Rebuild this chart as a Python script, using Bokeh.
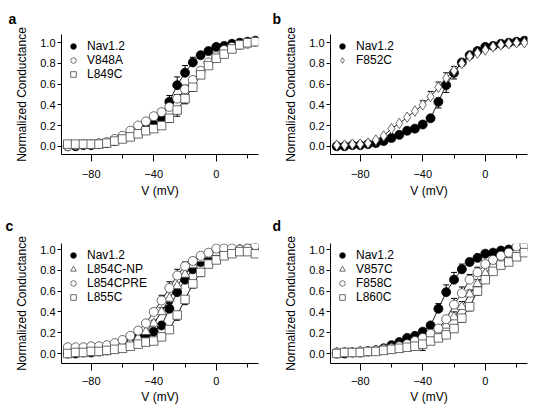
from bokeh.plotting import figure
from bokeh.layouts import gridplot
from bokeh.models import (FixedTicker, Legend, LegendItem, Whisker, TeeHead,
                          ColumnDataSource, Range1d, NumeralTickFormatter, Title)
from bokeh.embed import file_html
from bokeh.resources import INLINE

# ---------------- data ----------------
V = [-95, -90, -85, -80, -75, -70, -65, -60, -55, -50, -45, -40, -35,
     -30, -25, -20, -15, -10, -5, 0, 5, 10, 15, 20, 25]

nav12 = [0.00, 0.00, 0.01, 0.01, 0.02, 0.03, 0.05, 0.08, 0.11, 0.15, 0.17, 0.21, 0.27,
         0.43, 0.59, 0.71, 0.81, 0.88, 0.92, 0.96, 0.97, 0.99, 1.00, 1.01, 1.02]

# panel a
v848a = [0.00, 0.01, 0.02, 0.02, 0.03, 0.04, 0.07, 0.10, 0.15, 0.20, 0.24, 0.29, 0.33,
         0.38, 0.46, 0.55, 0.64, 0.73, 0.81, 0.87, 0.93, 0.96, 0.98, 0.99, 1.01]
l849c = [0.02, 0.02, 0.02, 0.02, 0.02, 0.03, 0.05, 0.07, 0.09, 0.12, 0.15, 0.17, 0.20,
         0.27, 0.35, 0.46, 0.57, 0.69, 0.78, 0.85, 0.89, 0.94, 0.98, 1.00, 1.01]
# panel b
f852c = [0.01, 0.01, 0.02, 0.02, 0.03, 0.06, 0.10, 0.17, 0.22, 0.28, 0.34, 0.40, 0.48,
         0.57, 0.66, 0.73, 0.80, 0.87, 0.90, 0.93, 0.96, 0.98, 0.99, 1.00, 1.00]
# panel c
l854c_np = [0.02, 0.02, 0.02, 0.02, 0.03, 0.04, 0.06, 0.08, 0.11, 0.15, 0.21, 0.29, 0.40,
            0.53, 0.65, 0.76, 0.85, 0.91, 0.95, 0.97, 0.98, 0.99, 1.00, 1.00, 1.00]
l854cpre = [0.06, 0.06, 0.06, 0.07, 0.07, 0.08, 0.10, 0.13, 0.17, 0.22, 0.29, 0.40, 0.51,
            0.63, 0.75, 0.84, 0.89, 0.94, 0.97, 1.01, 1.01, 1.01, 1.00, 1.01, 1.04]
l855c = [0.00, 0.01, 0.01, 0.02, 0.02, 0.03, 0.04, 0.05, 0.07, 0.09, 0.11, 0.12, 0.16,
         0.23, 0.37, 0.52, 0.67, 0.78, 0.86, 0.90, 0.94, 0.96, 0.98, 0.98, 0.96]
# panel d
v857c = [0.01, 0.01, 0.01, 0.02, 0.02, 0.03, 0.04, 0.05, 0.06, 0.08, 0.10, 0.12, 0.16,
         0.21, 0.27, 0.35, 0.45, 0.57, 0.67, 0.77, 0.85, 0.91, 0.95, 0.99, 1.02]
f858c = [0.01, 0.01, 0.01, 0.02, 0.02, 0.03, 0.04, 0.05, 0.07, 0.09, 0.12, 0.15, 0.19,
         0.24, 0.33, 0.47, 0.58, 0.71, 0.78, 0.86, 0.90, 0.94, 0.97, 1.03, 1.04]
l860c = [0.00, 0.01, 0.01, 0.01, 0.02, 0.02, 0.03, 0.04, 0.05, 0.06, 0.07, 0.09, 0.12,
         0.15, 0.18, 0.24, 0.34, 0.45, 0.60, 0.71, 0.79, 0.85, 0.88, 0.93, 0.97]

# signed error bars (positive = drawn upward, negative = downward), 0 = none
Z = [0.0] * 11
err_nav_a = Z + [0.02, 0.03, 0.06, 0.08, 0.07, 0.05, 0.03, 0.02, 0.0, 0.0, 0.0, 0.0, 0.0, 0.0]
err_v848a = Z + [0.0, 0.03, 0.03, 0.04, 0.04, 0.03, 0.02, 0.0, 0.0, 0.0, 0.0, 0.0, 0.0, 0.0]
err_l849c = Z + [0.0, 0.0, -0.04, -0.06, -0.05, -0.04, -0.03, 0.0, 0.0, 0.0, 0.0, 0.0, 0.0, 0.0]
err_nav_b = Z + [0.0, 0.0, -0.06, -0.07, -0.06, 0.0, 0.0, 0.0, 0.0, 0.0, 0.0, 0.0, 0.0, 0.0]
err_f852c = Z + [0.04, 0.05, 0.05, 0.05, 0.04, 0.03, 0.03, 0.0, 0.0, 0.0, 0.0, 0.0, 0.0, 0.0]
err_nav_c = Z + [0.0, 0.0, 0.06, 0.07, 0.06, 0.05, 0.03, 0.0, 0.0, 0.0, 0.0, 0.0, 0.0, 0.0]
err_l854c_np = Z + [0.03, 0.04, -0.05, -0.05, -0.04, 0.0, 0.0, 0.0, 0.0, 0.0, 0.0, 0.0, 0.0, 0.0]
err_l854cpre = Z + [0.03, 0.05, 0.06, 0.06, 0.04, 0.03, 0.0, 0.0, 0.0, 0.0, 0.0, 0.0, 0.0, 0.0]
err_l855c = Z + [0.0, 0.0, 0.0, -0.05, -0.05, -0.04, -0.04, 0.0, 0.0, 0.0, 0.0, 0.0, 0.0, 0.0]
err_nav_d = Z + [0.0, 0.0, 0.05, 0.07, 0.07, 0.05, 0.03, 0.0, 0.0, 0.0, 0.0, 0.0, 0.0, 0.0]
err_v857c = Z + [0.0, 0.0, 0.0, 0.05, 0.05, 0.05, 0.04, 0.04, 0.0, 0.0, 0.0, 0.0, 0.0, 0.0]
err_f858c = Z + [0.0, 0.0, 0.0, 0.0, 0.06, 0.06, 0.05, 0.05, 0.0, 0.0, 0.0, 0.0, 0.0, 0.0]
err_l860c = Z + [-0.06, 0.0, 0.0, 0.0, 0.0, -0.04, -0.04, -0.04, 0.0, 0.0, 0.0, 0.0, 0.0, 0.0]

x_major = [-80, -40, 0]
x_minor = [-60, -20, 20]
y_ticks = [0.0, 0.2, 0.4, 0.6, 0.8, 1.0]
x_label = "V (mV)"
y_label = "Normalized Conductance"

panels = [
    ("a", [("Nav1.2", nav12, err_nav_a, "circle", True),
           ("V848A", v848a, err_v848a, "circle", False),
           ("L849C", l849c, err_l849c, "square", False)]),
    ("b", [("Nav1.2", nav12, err_nav_b, "circle", True),
           ("F852C", f852c, err_f852c, "diamond", False)]),
    ("c", [("Nav1.2", nav12, err_nav_c, "circle", True),
           ("L854C-NP", l854c_np, err_l854c_np, "triangle", False),
           ("L854CPRE", l854cpre, err_l854cpre, "circle", False),
           ("L855C", l855c, err_l855c, "square", False)]),
    ("d", [("Nav1.2", nav12, err_nav_d, "circle", True),
           ("V857C", v857c, err_v857c, "triangle", False),
           ("F858C", f858c, err_f858c, "circle", False),
           ("L860C", l860c, err_l860c, "square", False)]),
]

FONT = "Liberation Sans"
SIZES = {"circle": 9, "square": 8.5, "triangle": 9.5, "diamond": 10.5}
LETTER_OFFSET = {"a": -53, "b": -58, "c": -56, "d": -58}


def make_panel(letter, series, col, row):
    left = 61 if col == 0 else 63
    right = 9 if col == 0 else 7
    top = 34 if row == 0 else 37
    bottom = 51 if row == 0 else 50
    yr = Range1d(-0.08, 1.08) if row == 0 else Range1d(-0.096, 1.058)
    p = figure(frame_width=197, frame_height=120,
               min_border_left=left, min_border_right=right,
               min_border_top=top, min_border_bottom=bottom,
               x_range=Range1d(-99, 27), y_range=yr,
               output_backend="svg", toolbar_location=None)
    p.outline_line_color = None
    p.grid.visible = False
    p.background_fill_color = "white"
    p.border_fill_color = "white"

    t = Title(text=letter, align="left", offset=LETTER_OFFSET[letter], text_font=FONT,
              text_font_size="14px", text_font_style="bold", text_color="black",
              standoff=15 if row == 0 else 20)
    p.add_layout(t, "above")

    for ax in (p.xaxis[0], p.yaxis[0]):
        ax.axis_line_color = "black"
        ax.axis_line_width = 1
        ax.major_tick_line_color = "black"
        ax.minor_tick_line_color = "black"
        ax.major_tick_in = 0
        ax.minor_tick_in = 0
        ax.major_label_text_font = FONT
        ax.major_label_text_font_size = "11px"
        ax.major_label_text_color = "black"
        ax.axis_label_text_font = FONT
        ax.axis_label_text_font_size = "12px"
        ax.axis_label_text_font_style = "normal"
        ax.axis_label_text_color = "black"

    p.xaxis.ticker = FixedTicker(ticks=x_major, minor_ticks=x_minor)
    p.xaxis.major_tick_out = 7
    p.xaxis.minor_tick_out = 4
    p.xaxis.major_label_standoff = 8 if row == 0 else 6
    p.xaxis.axis_label = x_label
    p.xaxis.axis_label_standoff = 3 if row == 0 else 2

    p.yaxis.ticker = FixedTicker(ticks=y_ticks, minor_ticks=[])
    p.yaxis.formatter = NumeralTickFormatter(format="0.0")
    p.yaxis.major_tick_out = 4
    p.yaxis.major_label_standoff = 2
    p.yaxis.axis_label = y_label
    p.yaxis.axis_label_standoff = 8

    # connecting lines
    for name, ys, errs, marker, filled in series:
        p.line(V, ys, line_color="black", line_width=0.9)

    # error bars
    for name, ys, errs, marker, filled in series:
        ux = [v for v, e in zip(V, errs) if e > 0]
        uy = [y for y, e in zip(ys, errs) if e > 0]
        uh = [y + e for y, e in zip(ys, errs) if e > 0]
        dx = [v for v, e in zip(V, errs) if e < 0]
        dy = [y for y, e in zip(ys, errs) if e < 0]
        dl = [y + e for y, e in zip(ys, errs) if e < 0]
        if ux:
            src = ColumnDataSource(dict(x=ux, lo=uy, hi=uh))
            w = Whisker(base="x", lower="lo", upper="hi", source=src,
                        upper_head=TeeHead(size=6, line_width=1, line_color="black"),
                        lower_head=None, line_color="black", line_width=1,
                        level="underlay")
            p.add_layout(w)
        if dx:
            src = ColumnDataSource(dict(x=dx, lo=dl, hi=dy))
            w = Whisker(base="x", lower="lo", upper="hi", source=src,
                        lower_head=TeeHead(size=6, line_width=1, line_color="black"),
                        upper_head=None, line_color="black", line_width=1,
                        level="underlay")
            p.add_layout(w)

    items = []
    for name, ys, errs, marker, filled in series:
        if filled:
            r = p.scatter(V, ys, marker=marker, size=SIZES[marker],
                          fill_color="black", line_color="black", line_width=0.8)
        else:
            r = p.scatter(V, ys, marker=marker, size=SIZES[marker],
                          fill_color="white", line_color="#444444", line_width=0.8)
        items.append(LegendItem(label=name, renderers=[r]))

    leg = Legend(items=items, location="top_left", border_line_color=None,
                 background_fill_alpha=0, padding=0, margin=5, spacing=0,
                 glyph_width=14, glyph_height=14, label_height=14,
                 label_standoff=7, label_text_font=FONT,
                 label_text_font_size="12px", label_text_color="black")
    p.add_layout(leg)
    return p


figs = []
for i, (letter, series) in enumerate(panels):
    figs.append(make_panel(letter, series, i % 2, i // 2))

grid = gridplot([[figs[0], figs[1]], [figs[2], figs[3]]], toolbar_location=None)

open("out.html", "w").write(file_html(grid, INLINE))
